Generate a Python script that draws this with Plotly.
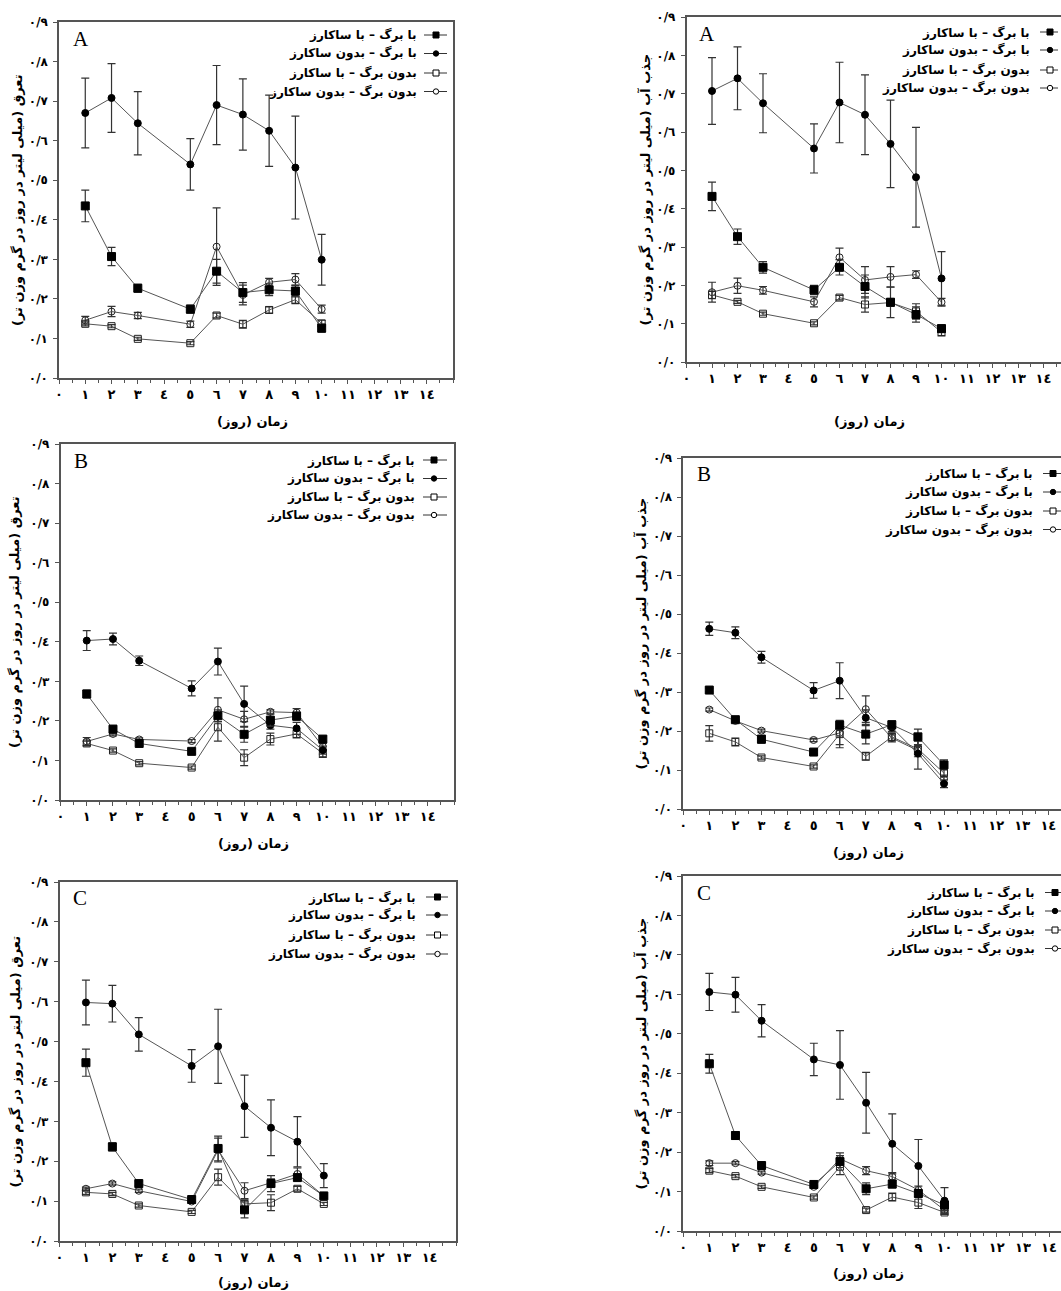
import plotly.graph_objects as go

W, H = 1061, 1291

# ---------------- data ----------------
days = [1, 2, 3, 5, 6, 7, 8, 9, 10]
series_names = ["با برگ – با ساکارز", "با برگ – بدون ساکارز",
                "بدون برگ – با ساکارز", "بدون برگ – بدون ساکارز"]
x_tickvals = list(range(15))
x_ticktext = ["٠", "١", "٢", "٣", "٤", "٥", "٦", "٧", "٨", "٩", "١٠", "١١", "١٢", "١٣", "١٤"]
y_tickvals = [0.0, 0.1, 0.2, 0.3, 0.4, 0.5, 0.6, 0.7, 0.8, 0.9]
y_ticktext = ["٠/٠", "٠/١", "٠/٢", "٠/٣", "٠/٤", "٠/٥", "٠/٦", "٠/٧", "٠/٨", "٠/٩"]
title_transp = "تعرق (میلی لیتر در روز در گرم وزن تر)"
title_uptake = "جذب آب (میلی لیتر در روز در گرم وزن تر)"
title_time = "زمان (روز)"

# Panel A - transpiration
A_T_ls = [0.435, 0.307, 0.227, 0.174, 0.270, 0.216, 0.223, 0.220, 0.126]
A_T_ls_err = [0.040, 0.023, 0.010, 0.010, 0.030, 0.025, 0.015, 0.015, 0.010]
A_T_ln = [0.670, 0.708, 0.644, 0.540, 0.690, 0.666, 0.625, 0.532, 0.299]
A_T_ln_err = [0.088, 0.087, 0.080, 0.065, 0.100, 0.090, 0.090, 0.130, 0.064]
A_T_ns = [0.137, 0.131, 0.099, 0.088, 0.158, 0.136, 0.172, 0.198, 0.138]
A_T_ns_err = [0.005, 0.004, 0.004, 0.004, 0.006, 0.010, 0.008, 0.010, 0.008]
A_T_nn = [0.146, 0.168, 0.158, 0.136, 0.332, 0.210, 0.242, 0.249, 0.174]
A_T_nn_err = [0.010, 0.013, 0.008, 0.008, 0.098, 0.025, 0.010, 0.015, 0.010]
# Panel A - water uptake
A_W_ls = [0.432, 0.327, 0.247, 0.188, 0.247, 0.197, 0.156, 0.124, 0.087]
A_W_ls_err = [0.037, 0.020, 0.015, 0.012, 0.020, 0.030, 0.040, 0.020, 0.010]
A_W_ln = [0.707, 0.740, 0.675, 0.557, 0.677, 0.645, 0.569, 0.482, 0.218]
A_W_ln_err = [0.087, 0.082, 0.077, 0.064, 0.105, 0.104, 0.114, 0.130, 0.070]
A_W_ns = [0.175, 0.157, 0.126, 0.101, 0.168, 0.150, 0.155, 0.132, 0.078]
A_W_ns_err = [0.010, 0.004, 0.004, 0.004, 0.006, 0.020, 0.010, 0.020, 0.010]
A_W_nn = [0.182, 0.199, 0.187, 0.157, 0.273, 0.214, 0.222, 0.228, 0.156]
A_W_nn_err = [0.026, 0.020, 0.010, 0.013, 0.024, 0.035, 0.027, 0.010, 0.010]

# Panel B - transpiration
B_T_ls = [0.268, 0.179, 0.143, 0.123, 0.213, 0.166, 0.202, 0.212, 0.154]
B_T_ls_err = [0.010, 0.010, 0.005, 0.005, 0.015, 0.020, 0.015, 0.010, 0.006]
B_T_ln = [0.403, 0.407, 0.352, 0.282, 0.350, 0.243, 0.189, 0.181, 0.126]
B_T_ln_err = [0.025, 0.015, 0.012, 0.019, 0.034, 0.045, 0.010, 0.015, 0.010]
B_T_ns = [0.143, 0.125, 0.093, 0.082, 0.184, 0.107, 0.154, 0.167, 0.118]
B_T_ns_err = [0.006, 0.004, 0.004, 0.004, 0.035, 0.020, 0.015, 0.010, 0.010]
B_T_nn = [0.148, 0.167, 0.153, 0.149, 0.228, 0.204, 0.223, 0.221, 0.135]
B_T_nn_err = [0.010, 0.005, 0.004, 0.004, 0.030, 0.020, 0.005, 0.010, 0.008]
# Panel B - water uptake
B_W_ls = [0.305, 0.229, 0.179, 0.146, 0.215, 0.192, 0.216, 0.185, 0.113]
B_W_ls_err = [0.005, 0.005, 0.010, 0.005, 0.010, 0.025, 0.010, 0.020, 0.013]
B_W_ln = [0.462, 0.452, 0.389, 0.304, 0.329, 0.234, 0.209, 0.142, 0.065]
B_W_ln_err = [0.017, 0.015, 0.015, 0.020, 0.046, 0.020, 0.010, 0.040, 0.010]
B_W_ns = [0.194, 0.172, 0.132, 0.109, 0.192, 0.135, 0.185, 0.154, 0.092]
B_W_ns_err = [0.020, 0.010, 0.004, 0.004, 0.035, 0.010, 0.010, 0.020, 0.010]
B_W_nn = [0.255, 0.226, 0.201, 0.177, 0.195, 0.256, 0.182, 0.150, 0.077]
B_W_nn_err = [0.004, 0.004, 0.004, 0.004, 0.030, 0.034, 0.010, 0.010, 0.010]

# Panel C - transpiration
C_T_ls = [0.447, 0.236, 0.144, 0.104, 0.232, 0.078, 0.144, 0.159, 0.113]
C_T_ls_err = [0.034, 0.010, 0.006, 0.006, 0.031, 0.020, 0.020, 0.008, 0.006]
C_T_ln = [0.598, 0.595, 0.518, 0.439, 0.488, 0.338, 0.284, 0.249, 0.164]
C_T_ln_err = [0.056, 0.046, 0.042, 0.041, 0.093, 0.078, 0.070, 0.063, 0.030]
C_T_ns = [0.122, 0.118, 0.089, 0.073, 0.160, 0.093, 0.096, 0.131, 0.093]
C_T_ns_err = [0.005, 0.004, 0.004, 0.004, 0.020, 0.010, 0.020, 0.006, 0.004]
C_T_nn = [0.131, 0.144, 0.126, 0.099, 0.228, 0.126, 0.146, 0.168, 0.113]
C_T_nn_err = [0.004, 0.004, 0.004, 0.004, 0.030, 0.020, 0.010, 0.015, 0.005]
# Panel C - water uptake
C_W_ls = [0.424, 0.242, 0.166, 0.118, 0.176, 0.107, 0.119, 0.095, 0.066]
C_W_ls_err = [0.024, 0.010, 0.006, 0.006, 0.015, 0.015, 0.010, 0.008, 0.006]
C_W_ln = [0.606, 0.599, 0.533, 0.435, 0.421, 0.325, 0.221, 0.165, 0.077]
C_W_ln_err = [0.047, 0.044, 0.041, 0.041, 0.087, 0.077, 0.076, 0.067, 0.033]
C_W_ns = [0.153, 0.139, 0.112, 0.085, 0.163, 0.053, 0.086, 0.072, 0.047]
C_W_ns_err = [0.005, 0.004, 0.004, 0.004, 0.020, 0.005, 0.010, 0.015, 0.005]
C_W_nn = [0.172, 0.172, 0.148, 0.112, 0.183, 0.153, 0.138, 0.104, 0.053]
C_W_nn_err = [0.006, 0.004, 0.004, 0.004, 0.015, 0.010, 0.010, 0.010, 0.005]

# ---------------- layout geometry (pixels) ----------------
def px(x):
    return x / W

def py(y):
    return 1 - y / H

RLM = "\u200f"
FONT = "DejaVu Sans"
AXC = "#555555"

panels = [
    dict(lab="A", data=[(A_T_ls, A_T_ls_err), (A_T_ln, A_T_ln_err), (A_T_ns, A_T_ns_err), (A_T_nn, A_T_nn_err)],
         x0=59, x1=453, yt=22, yb=378, xmax=15, right=True, yt_text=title_transp, ytx=18,
         leg_y=[35, 53.5, 73, 91.5], leg_l=(424, 447), leg_m=436, leg_t=419, lab_xy=(81, 39), xt_y=421),
    dict(lab="A", data=[(A_W_ls, A_W_ls_err), (A_W_ln, A_W_ln_err), (A_W_ns, A_W_ns_err), (A_W_nn, A_W_nn_err)],
         x0=686.5, x1=1061, yt=17, yb=362, xmax=(1061 - 686.5) / 25.5, right=False, yt_text=title_uptake, ytx=645,
         leg_y=[32, 50, 70, 88], leg_l=(1040, 1058), leg_m=1050, leg_t=1032, lab_xy=(707, 34), xt_y=421),
    dict(lab="B", data=[(B_T_ls, B_T_ls_err), (B_T_ln, B_T_ln_err), (B_T_ns, B_T_ns_err), (B_T_nn, B_T_nn_err)],
         x0=60.5, x1=454, yt=444, yb=800, xmax=15, right=True, yt_text=title_transp, ytx=15,
         leg_y=[460, 478.5, 497, 515], leg_l=(423, 447), leg_m=434, leg_t=417, lab_xy=(81, 461), xt_y=843),
    dict(lab="B", data=[(B_W_ls, B_W_ls_err), (B_W_ln, B_W_ln_err), (B_W_ns, B_W_ns_err), (B_W_nn, B_W_nn_err)],
         x0=683.2, x1=1061, yt=458, yb=809, xmax=(1061 - 683.2) / 26.08, right=False, yt_text=title_uptake, ytx=641,
         leg_y=[473.5, 492, 511, 529.5], leg_l=(1043, 1061), leg_m=1053, leg_t=1035, lab_xy=(704, 474), xt_y=853),
    dict(lab="C", data=[(C_T_ls, C_T_ls_err), (C_T_ln, C_T_ln_err), (C_T_ns, C_T_ns_err), (C_T_nn, C_T_nn_err)],
         x0=59.5, x1=456, yt=882, yb=1241, xmax=15, right=True, yt_text=title_transp, ytx=15,
         leg_y=[897, 915, 935, 954], leg_l=(426, 448), leg_m=437.5, leg_t=418, lab_xy=(80, 898), xt_y=1282),
    dict(lab="C", data=[(C_W_ls, C_W_ls_err), (C_W_ln, C_W_ln_err), (C_W_ns, C_W_ns_err), (C_W_nn, C_W_nn_err)],
         x0=683.2, x1=1061, yt=876, yb=1231, xmax=(1061 - 683.2) / 26.13, right=False, yt_text=title_uptake, ytx=641,
         leg_y=[892.5, 911, 930, 948.5], leg_l=(1045, 1061), leg_m=1055, leg_t=1037, lab_xy=(704, 893), xt_y=1273),
]

styles = [
    dict(symbol="square", size=8, color="black", lc="black"),
    dict(symbol="circle", size=7, color="black", lc="black"),
    dict(symbol="square-open", size=7, color="#222222", lc="#222222"),
    dict(symbol="circle-open", size=7, color="#222222", lc="#222222"),
]

fig = go.Figure()
layout = dict(width=W, height=H, margin=dict(l=0, r=0, t=0, b=0, autoexpand=False),
              paper_bgcolor="white", plot_bgcolor="white", showlegend=False)
shapes = []
annotations = []

for i, p in enumerate(panels):
    k = "" if i == 0 else str(i + 1)
    xa, ya = "x" + k, "y" + k
    layout["xaxis" + k] = dict(
        domain=[px(p["x0"]), px(p["x1"])], range=[0, p["xmax"]], anchor=ya, automargin=False,
        tickmode="array", tickvals=x_tickvals, ticktext=x_ticktext,
        ticks="outside", ticklen=4, tickwidth=1, tickcolor=AXC,
        minor=dict(tickmode="linear", tick0=0, dtick=0.5, ticks="outside", ticklen=3,
                   tickwidth=1, tickcolor=AXC, showgrid=False),
        showline=True, linecolor=AXC, linewidth=1.5, mirror=True,
        showgrid=False, zeroline=False,
        tickfont=dict(family=FONT, size=13, color="black", weight="bold"))
    layout["yaxis" + k] = dict(
        domain=[py(p["yb"]), py(p["yt"])], range=[0, 0.9], anchor=xa, automargin=False,
        tickmode="array", tickvals=y_tickvals, ticktext=y_ticktext,
        ticks="outside", ticklen=4, tickwidth=1, tickcolor=AXC, ticklabelstandoff=3,
        showline=True, linecolor=AXC, linewidth=1.5, mirror=p["right"],
        showgrid=False, zeroline=False,
        tickfont=dict(family=FONT, size=12, color="black", weight="bold"))

    for s in [3, 2, 1, 0]:
        vals, errs = p["data"][s]
        st = styles[s]
        fig.add_trace(go.Scatter(
            x=days, y=vals, xaxis=xa, yaxis=ya, mode="lines+markers",
            name=series_names[s], cliponaxis=False,
            line=dict(color="#555555", width=1),
            marker=dict(symbol=st["symbol"], size=st["size"], color=st["color"],
                        line=dict(color=st["lc"], width=1)),
            error_y=dict(type="data", array=errs, visible=True, color="#333333",
                         thickness=1.2, width=4),
        ))

    # legend (symbol on the right of RTL text)
    for s, yy in enumerate(p["leg_y"]):
        lx0, lx1 = p["leg_l"]
        shapes.append(dict(type="line", xref="paper", yref="paper", layer="above",
                           x0=px(lx0), x1=px(lx1), y0=py(yy), y1=py(yy),
                           line=dict(color="#333333", width=1)))
        m = p["leg_m"]
        filled = s < 2
        r = 3 if s % 2 == 0 else 2.7
        shapes.append(dict(type="rect" if s % 2 == 0 else "circle", layer="above",
                           xref="paper", yref="paper",
                           x0=px(m - r), x1=px(m + r), y0=py(yy + r), y1=py(yy - r),
                           fillcolor="black" if filled else "white",
                           line=dict(color="black", width=1)))
        annotations.append(dict(xref="paper", yref="paper", x=px(p["leg_t"]), y=py(yy),
                                xanchor="right", yanchor="middle", showarrow=False,
                                text=RLM + series_names[s] + RLM,
                                font=dict(family=FONT, size=12, color="black", weight="bold")))

    annotations.append(dict(xref="paper", yref="paper", x=px(p["lab_xy"][0]), y=py(p["lab_xy"][1]),
                            xanchor="center", yanchor="middle", showarrow=False, text=p["lab"],
                            font=dict(family="Liberation Serif", size=21, color="black")))
    annotations.append(dict(xref="paper", yref="paper", x=px(p["ytx"]),
                            y=py((p["yt"] + p["yb"]) / 2), xanchor="center", yanchor="middle",
                            showarrow=False, textangle=-90, text=RLM + p["yt_text"] + RLM,
                            font=dict(family=FONT, size=13, color="black", weight="bold")))
    annotations.append(dict(xref="paper", yref="paper", x=px((p["x0"] + p["x1"]) / 2 - 4),
                            y=py(p["xt_y"]), xanchor="center", yanchor="middle",
                            showarrow=False, text=RLM + title_time + RLM,
                            font=dict(family=FONT, size=13, color="black", weight="bold")))

layout["shapes"] = shapes
layout["annotations"] = annotations
fig.update_layout(**layout)
fig.write_html("out.html", config={"displayModeBar": False},
               post_script="document.body.style.margin='0';document.body.style.overflow='hidden';")
